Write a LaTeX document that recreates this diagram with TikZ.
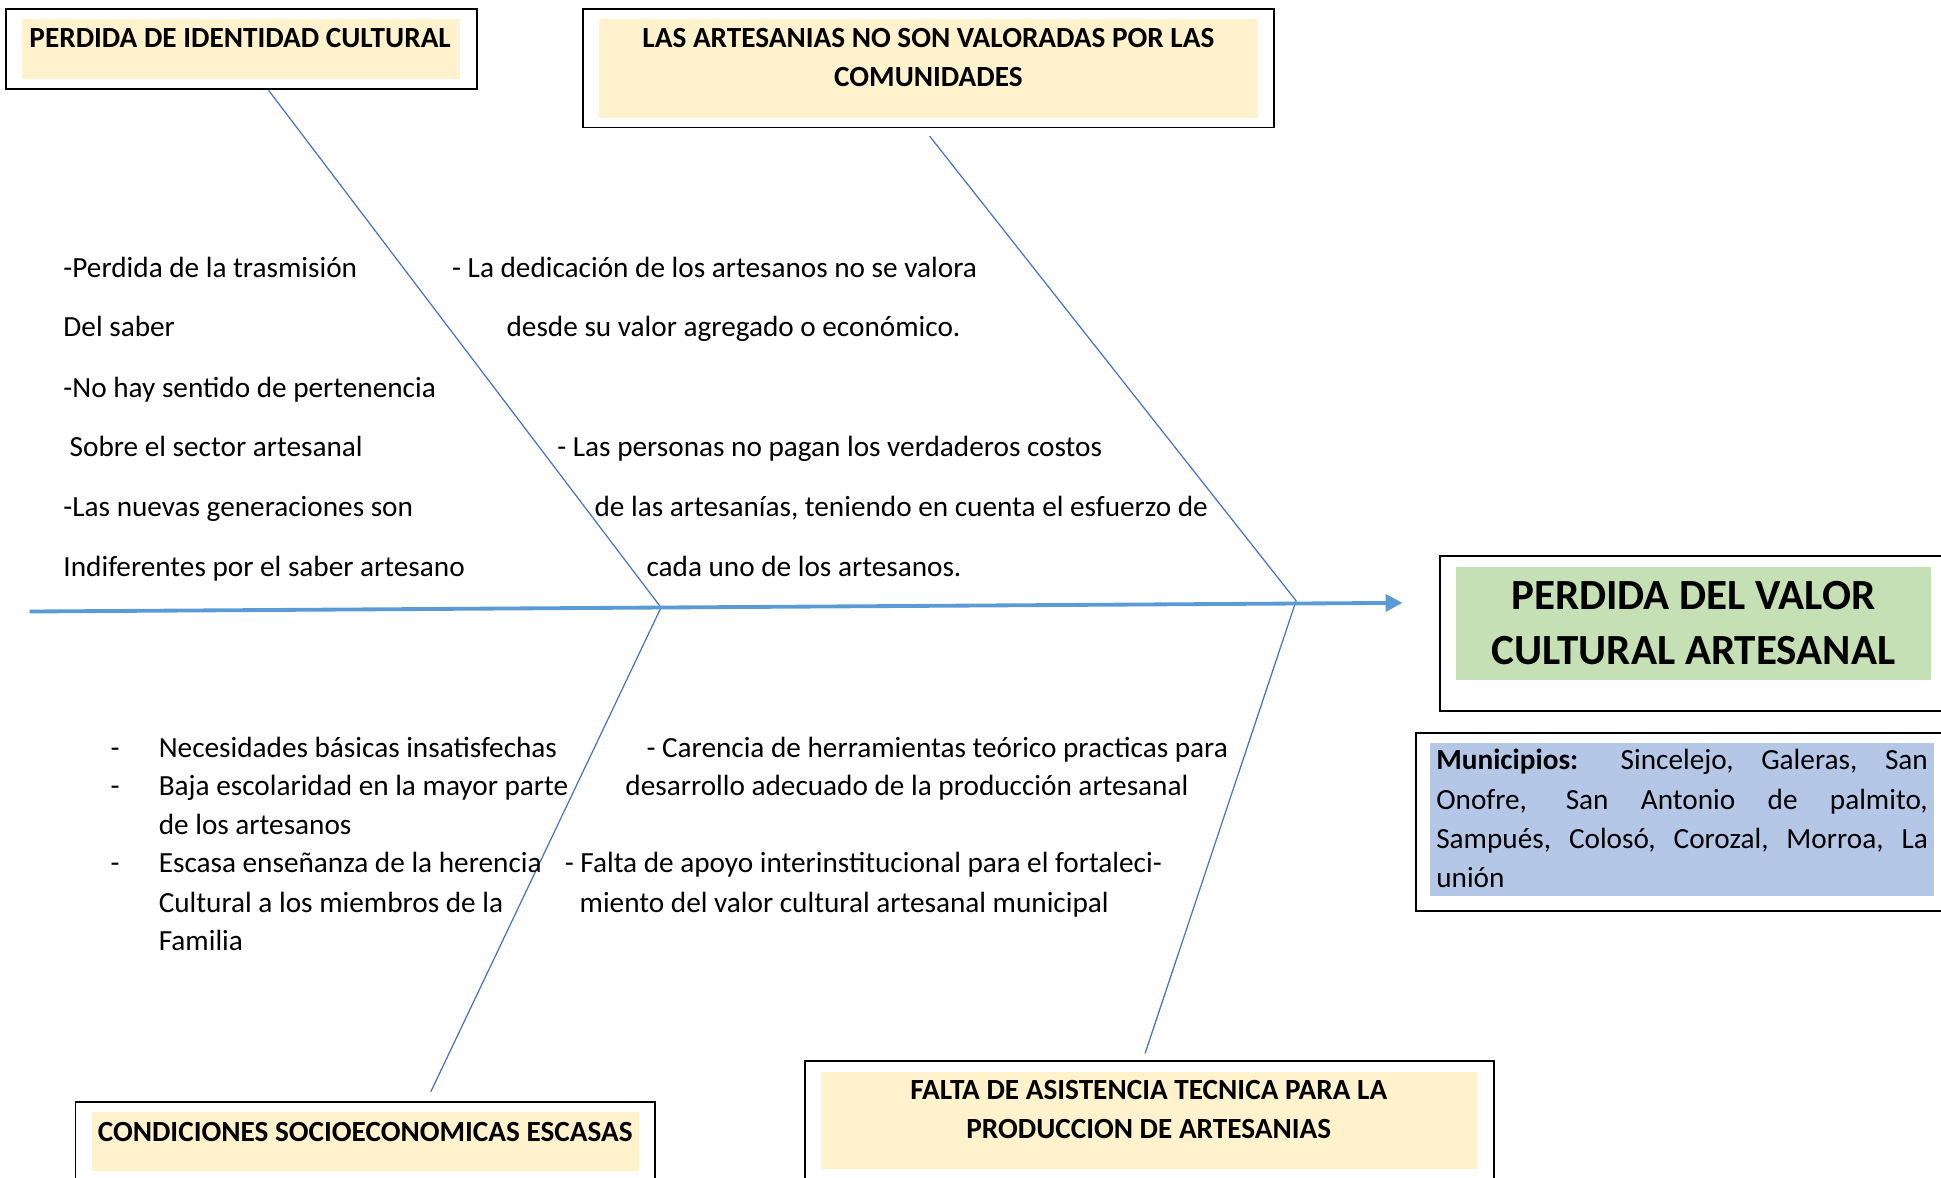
\documentclass[tikz,border=0pt]{standalone}
\usepackage{fontspec}
\setmainfont{Carlito}
\usetikzlibrary{arrows.meta}
\definecolor{spineblue}{HTML}{5B9BD5}
\definecolor{boneblue}{HTML}{4472C4}
\definecolor{causecream}{HTML}{FFF2CC}
\definecolor{effectgreen}{HTML}{C5E0B4}
\definecolor{townblue}{HTML}{B4C7E7}
\tikzset{
	boxframe/.style={draw=black, line width=1.1pt},
	bone/.style={draw=boneblue, line width=0.7pt},
	spine/.style={draw=spineblue, line width=2.2pt, -{Triangle[length=0.34cm,width=0.34cm]}},
	txt/.style={anchor=base west, inner sep=0pt, font=\fontsize{16.8}{20}\selectfont},
	headtext/.style={anchor=base, inner sep=0pt, align=center, font=\bfseries\fontsize{16.8}{22.7}\selectfont},
}

\begin{document}
\begin{tikzpicture}[x=0.025cm, y=-0.025cm]
				\clip (0, 0) rectangle (1568, 951);
				
				\fill[causecream] (18, 15) rectangle (372, 64);
				\draw[boxframe] (5, 7) rectangle (385, 72);
				\node[headtext] (identidad) at (194, 38) {PERDIDA DE IDENTIDAD CULTURAL};
				
				\fill[causecream] (484, 15) rectangle (1016, 95);
				\draw[boxframe] (471, 7) rectangle (1029, 103);
				\node[headtext] (valoradas) at (750, 70) {LAS ARTESANIAS NO SON VALORADAS POR LAS\\COMUNIDADES};
				
				\fill[causecream] (74, 898) rectangle (516, 946);
				\draw[boxframe] (61, 890) rectangle (529, 965);
				\node[headtext] (socioeco) at (295, 922) {CONDICIONES SOCIOECONOMICAS ESCASAS};
				
				\fill[causecream] (663, 866) rectangle (1194, 944);
				\draw[boxframe] (650, 857) rectangle (1207, 965);
				\node[headtext] (asistencia) at (928, 920) {FALTA DE ASISTENCIA TECNICA PARA LA\\PRODUCCION DE ARTESANIAS};
				
				\fill[effectgreen] (1176, 458) rectangle (1560, 549);
				\draw[boxframe] (1163, 449) rectangle (1580, 574);
				\node[headtext, font=\bfseries\fontsize{24.7}{32}\selectfont] (efecto) at (1368, 537) {PERDIDA DEL VALOR\\CULTURAL ARTESANAL};
				
				\fill[townblue] (1155, 600) rectangle (1562, 724);
				\draw[boxframe] (1144, 592) rectangle (1580, 736);
				\node[txt, text width=9.925cm, align=justify, font=\fontsize{16.8}{22.5}\selectfont] (municipios) at (1160, 622) {\textbf{Municipios:} Sincelejo, Galeras, San\linebreak Onofre, San Antonio de palmito,\linebreak Sampués, Colosó, Corozal, Morroa, La\linebreak unión};
				
				\coordinate (tail) at (24, 494);
				\coordinate (head) at (1133, 487);
				\coordinate (j1) at (534, 490.8);
				\coordinate (j2) at (1047, 485.3);
				\coordinate (b1) at (217, 73);
				\coordinate (b2) at (751, 110);
				\coordinate (b3) at (348, 882);
				\coordinate (b4) at (925, 851);
				
				\draw[bone] (b1) -- (j1) -- (b3);
				\draw[bone] (b2) -- (j2) -- (b4);
				\draw[spine] (tail) -- (head);
				
				\node[txt] (up1) at (51, 224) {-Perdida de la trasmisión};
				\node[txt] (up2) at (51, 272) {Del saber};
				\node[txt] (up3) at (51, 321) {-No hay sentido de pertenencia};
				\node[txt] (up4) at (56, 369) {Sobre el sector artesanal};
				\node[txt] (up5) at (51, 417) {-Las nuevas generaciones son};
				\node[txt] (up6) at (51, 466) {Indiferentes por el saber artesano};
				
				\node[txt] (um1) at (365, 224) {- La dedicación de los artesanos no se valora};
				\node[txt] (um2) at (409, 272) {desde su valor agregado o económico.};
				\node[txt] (um3) at (450, 369) {- Las personas no pagan los verdaderos costos};
				\node[txt] (um4) at (480, 417) {de las artesanías, teniendo en cuenta el esfuerzo de};
				\node[txt] (um5) at (522, 466) {cada uno de los artesanos.};
				
				\node[txt] (dash1) at (89, 612) {-};
				\node[txt] (lo1) at (128, 612) {Necesidades básicas insatisfechas};
				\node[txt] (dash2) at (89, 643) {-};
				\node[txt] (lo2) at (128, 643) {Baja escolaridad en la mayor parte};
				\node[txt] (lo3) at (128, 674) {de los artesanos};
				\node[txt] (dash3) at (89, 705) {-};
				\node[txt] (lo4) at (128, 705) {Escasa enseñanza de la herencia};
				\node[txt] (lo5) at (128, 737) {Cultural a los miembros de la};
				\node[txt] (lo6) at (128, 768) {Familia};
				
				\node[txt] (lm1) at (522, 612) {- Carencia de herramientas teórico practicas para};
				\node[txt] (lm2) at (505, 643) {desarrollo adecuado de la producción artesanal};
				\node[txt] (lm3) at (456, 705) {- Falta de apoyo interinstitucional para el fortaleci-};
				\node[txt] (lm4) at (468, 737) {miento del valor cultural artesanal municipal};
			\end{tikzpicture}
\end{document}
